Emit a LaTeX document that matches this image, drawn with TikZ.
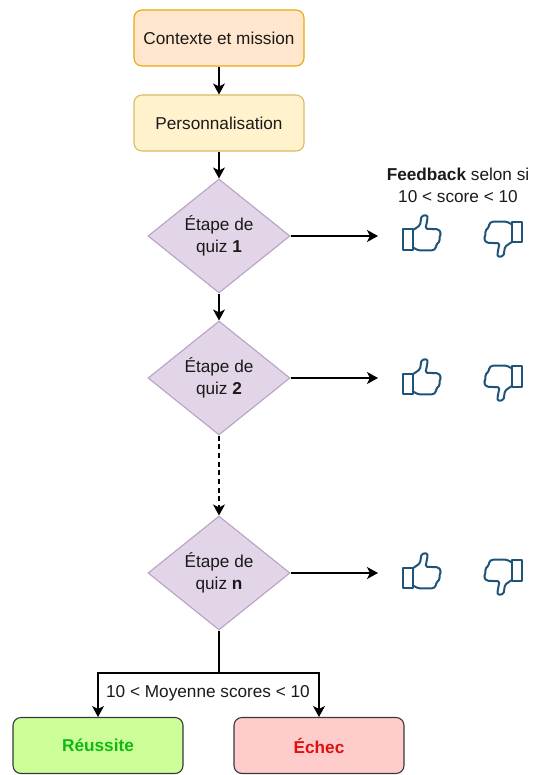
\documentclass[tikz,border=0pt]{standalone}
\usepackage{fontspec}
\setmainfont{Liberation Sans}
\usetikzlibrary{arrows.meta,shapes.geometric}
\definecolor{txt}{HTML}{1A1A1A}
\definecolor{orangefill}{HTML}{FFE6CC}
\definecolor{orangeline}{HTML}{E8A90C}
\definecolor{yellowfill}{HTML}{FFF2CC}
\definecolor{yellowline}{HTML}{D9BC62}
\definecolor{purplefill}{HTML}{E1D5E7}
\definecolor{purpleline}{HTML}{B9A2C6}
\definecolor{greenfill}{HTML}{CCFF99}
\definecolor{redfill}{HTML}{FFCCCC}
\definecolor{boxline}{HTML}{36393D}
\definecolor{thumbline}{HTML}{1F5478}
\definecolor{oktxt}{HTML}{12B812}
\definecolor{kotxt}{HTML}{DD1111}
\tikzset{
  x=1pt,y=-1pt,
  lbl/.style={font=\fontsize{17.2}{22}\selectfont,text=txt,align=center,inner sep=0pt},
  rbox/.style={draw,rounded corners=8pt,minimum width=170pt,minimum height=56pt,line width=1.1pt,lbl},
  quiz/.style={diamond,draw=purpleline,fill=purplefill,line width=1.1pt,minimum width=142pt,minimum height=114pt,inner sep=0pt,lbl,aspect=1.245},
  flow/.style={draw=black,line width=1.1pt,-{Stealth[length=11pt,width=12pt,inset=3pt]}},
  plain/.style={draw=black,line width=1.1pt},
  thumb/.style={draw=thumbline,line width=2pt,line join=round},
  thumbup/.pic={
    \draw[thumb] (0.3,15.5) -- (10.7,15.5) -- (10.7,36) -- (0.3,36) -- cycle;
    \draw[thumb,rounded corners=1.5pt] (10.7,16) -- (17.5,11.3) -- (19,2) -- (24.8,1) -- (25,4.7) -- (23,14.7) -- (35.8,15.3) -- (38.5,18.7) -- (36.8,24.3) -- (37.5,27) -- (34,30.3) -- (33,34.7) -- (30.8,36.3) -- (15.8,36.3) -- (10.7,33.7);
  }
}
\begin{document}
\begin{tikzpicture}
\useasboundingbox (0,0) rectangle (535,775);
\fill[white] (0,0) rectangle (535,775);
\node[rbox,draw=orangeline,fill=orangefill] (ctx) at (219,38) {Contexte et mission};
\node[rbox,draw=yellowline,fill=yellowfill] (perso) at (219,123) {Personnalisation};
\node[quiz] (q1) at (219,236) {Étape de\\quiz \textbf{1}};
\node[quiz] (q2) at (219,378) {Étape de\\quiz \textbf{2}};
\node[quiz] (q3) at (219,573) {Étape de\\quiz \textbf{n}};
\node[rbox,draw=boxline,fill=greenfill,text=oktxt,font=\fontsize{17.2}{22}\selectfont\bfseries] (ok) at (98,745.5) {Réussite};
\node[rbox,draw=boxline,fill=redfill,text=kotxt,font=\fontsize{17.2}{22}\selectfont\bfseries] (ko) at (319,745.5) {Échec};
\node[lbl] (fb) at (458,185) {\textbf{Feedback} selon si\\10 < score < 10};
\node[lbl] (moy) at (208,693) {10 < Moyenne scores < 10};
\coordinate (e1) at (378,236);
\coordinate (e2) at (378,378);
\coordinate (e3) at (378,573);
\coordinate (j) at (219,673);
\draw[flow] (ctx) -- (perso);
\draw[flow] (perso) -- (q1);
\draw[flow] (q1) -- (q2);
\draw[flow,dash pattern=on 5pt off 3.7pt] (q2) -- (q3);
\draw[flow] (q1) -- (e1);
\draw[flow] (q2) -- (e2);
\draw[flow] (q3) -- (e3);
\draw[plain] (q3) -- (j);
\draw[flow] (j) -| (ok);
\draw[flow] (j) -| (ko);
\pic at (402.5,214) {thumbup};
\pic[rotate=180] at (522.5,258) {thumbup};
\pic at (402.5,358) {thumbup};
\pic[rotate=180] at (522.5,402) {thumbup};
\pic at (402.5,552) {thumbup};
\pic[rotate=180] at (522.5,596) {thumbup};
\end{tikzpicture}
\end{document}
